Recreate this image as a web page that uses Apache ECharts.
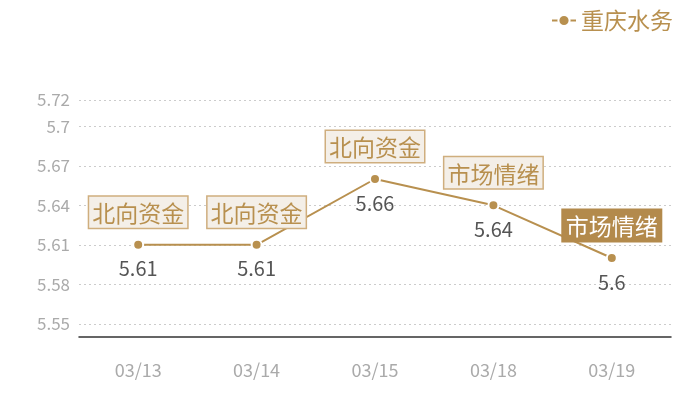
<!DOCTYPE html>
<html><head><meta charset="utf-8">
<script src="https://cdn.jsdelivr.net/npm/echarts@6/dist/echarts.min.js"></script>
<style>html,body{margin:0;padding:0;background:#fff}#c{width:700px;height:400px}</style>
</head><body><div id="c"></div>
<script>
const categories = ['03/13','03/14','03/15','03/18','03/19'];
const seriesName = '重庆水务';
const values = [5.61, 5.61, 5.66, 5.64, 5.60];
const annotations = ['北向资金','北向资金','北向资金','市场情绪','市场情绪'];
const highlighted = [false, false, false, false, true];
const yTicks = [5.55, 5.58, 5.61, 5.64, 5.67, 5.70, 5.72];
const yMin = 5.54, yMax = 5.72;

const tan = '#b8904f';
const font = '"Noto Sans CJK SC", "Noto Sans", sans-serif';
const chart = echarts.init(document.getElementById('c'));
const r2 = v => Math.round(v * 100) / 100;

chart.setOption({
  animation: false,
  textStyle: { fontFamily: font },
  legend: {
    right: 22, top: 4,
    itemWidth: 24, itemHeight: 14, itemGap: 6,
    textStyle: { color: tan, fontSize: 23, fontFamily: font },
    data: [seriesName]
  },
  grid: { left: 79, right: 29, top: 100, bottom: 63 },
  xAxis: {
    type: 'category',
    data: categories,
    axisLine: { show: true, lineStyle: { color: '#333', width: 1.5 } },
    axisTick: { show: false },
    axisLabel: { color: '#aaa', fontSize: 18, margin: 24, fontFamily: font }
  },
  yAxis: {
    type: 'value',
    min: yMin, max: yMax, interval: 0.01,
    axisLine: { show: false },
    axisTick: { show: false },
    splitLine: { show: false },
    axisLabel: {
      color: '#aaa', fontSize: 17, margin: 9, fontFamily: font,
      formatter: v => yTicks.some(t => Math.abs(t - v) < 1e-6) ? String(r2(v)) : ''
    }
  },
  series: [{
    name: seriesName,
    type: 'line',
    data: values,
    symbol: 'circle',
    symbolSize: 10,
    itemStyle: { color: tan, borderColor: '#fff', borderWidth: 2 },
    lineStyle: { color: tan, width: 2 },
    label: {
      show: true, position: 'bottom', distance: 8,
      color: '#555', fontSize: 20, fontFamily: font,
      formatter: p => String(r2(p.value))
    },
    markLine: {
      silent: true,
      symbol: 'none',
      z: 0,
      label: { show: false },
      lineStyle: { color: '#ccc', type: [2, 3], width: 1 },
      data: yTicks.map(t => ({ yAxis: t }))
    },
    markPoint: {
      symbol: 'circle',
      symbolSize: 0,
      silent: true,
      data: values.map((v, i) => ({
        coord: [i, v],
        value: annotations[i],
        label: {
          show: true,
          position: 'top',
          distance: 17,
          formatter: annotations[i],
          fontSize: 23,
          fontFamily: font,
          color: highlighted[i] ? '#fff' : tan,
          backgroundColor: highlighted[i] ? '#b38a4c' : '#f4efe8',
          borderColor: highlighted[i] ? '#b38a4c' : '#cfae7e',
          borderWidth: 1.5,
          padding: [5, 3, 3, 3]
        }
      }))
    }
  }]
});
</script></body></html>
